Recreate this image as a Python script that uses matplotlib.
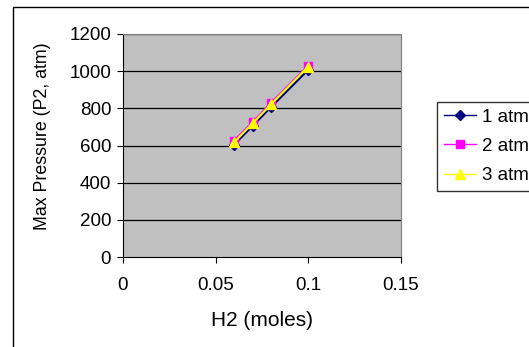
import matplotlib.pyplot as plt
from matplotlib.patches import Rectangle

plt.rcParams['font.family'] = ['Liberation Sans', 'DejaVu Sans']

# H2 amount and max pressure for each starting pressure
h2_moles = [0.06, 0.07, 0.08, 0.1]
p_1atm = [605, 706, 808, 1008]
p_2atm = [626, 726, 830, 1030]
p_3atm = [618, 720, 823, 1025]

series_labels = ['1 atm', '2 atm', '3 atm']
x_ticks = [0, 0.05, 0.1, 0.15]
x_tick_labels = ['0', '0.05', '0.1', '0.15']
y_ticks = [0, 200, 400, 600, 800, 1000, 1200]

W, H = 529, 347
fig = plt.figure(figsize=(W / 100, H / 100), dpi=100)
ax = fig.add_axes([123 / W, 1 - 257 / H, (401 - 123) / W, (257 - 34) / H])

# outer chart border (cut off at right and bottom like the screenshot)
fig.patches.append(Rectangle((13 / W, -0.1), 1.2, 1 - 7 / H + 0.1,
                             transform=fig.transFigure, fill=False,
                             edgecolor='black', linewidth=1.0))

ax.set_facecolor('#C0C0C0')
for y in y_ticks[1:]:
    ax.axhline(y, color='black', linewidth=0.9, zorder=1)

ax.plot(h2_moles, p_1atm, color='#000080', marker='D', markersize=5,
        linewidth=1.5, label=series_labels[0], zorder=3)
ax.plot(h2_moles, p_2atm, color='#FF00FF', marker='s', markersize=6,
        linewidth=1.5, label=series_labels[1], zorder=4)
ax.plot(h2_moles, p_3atm, color='#FFFF00', marker='^', markersize=7,
        linewidth=1.5, label=series_labels[2], zorder=5)

ax.set_xlim(0, 0.15)
ax.set_ylim(0, 1200)
ax.set_xticks(x_ticks)
ax.set_xticklabels(x_tick_labels)
ax.set_yticks(y_ticks)
ax.tick_params(direction='out', length=4.5, width=0.8, labelsize=13.5)
ax.tick_params(axis='y', pad=4)
ax.tick_params(axis='x', pad=10)

ax.spines['left'].set_color('black')
ax.spines['bottom'].set_color('black')
ax.spines['top'].set_color('#808080')
ax.spines['right'].set_color('#808080')

ax.set_xlabel('H2 (moles)', fontsize=15, va='center')
ax.xaxis.set_label_coords(0.5, (257 - 320) / 223)
ax.set_ylabel('Max Pressure (P2, atm)', fontsize=12.8, va='center')
ax.yaxis.set_label_coords((43 - 123) / 278, (257 - 136) / 223)

leg = fig.legend(loc='upper left', bbox_to_anchor=(437 / W, 1 - 102 / H),
                 fontsize=13.5, frameon=True, fancybox=False, borderpad=0.35,
                 labelspacing=0.65, handlelength=1.75, handletextpad=0.3,
                 borderaxespad=0)
leg.get_frame().set_edgecolor('black')
leg.get_frame().set_linewidth(1.0)
for line in leg.get_lines():
    line.set_linewidth(1.0)

fig.savefig('out.png', dpi=100)
